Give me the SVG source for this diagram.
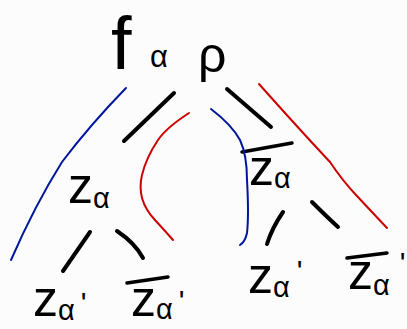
<svg xmlns="http://www.w3.org/2000/svg" width="407" height="329" viewBox="0 0 407 329">
<style>
.t{font-family:"Liberation Sans",Arial,sans-serif;fill:#000}
.z{font-size:50px}
.s{font-size:29px}
.p{font-size:30px}
.k{fill:none;stroke:#000;stroke-width:4;stroke-linecap:round}
.b{fill:none;stroke:#00169c;stroke-width:2;stroke-linecap:round}
.r{fill:none;stroke:#cc0000;stroke-width:2;stroke-linecap:round}
.bar{fill:none;stroke:#000;stroke-width:3.5;stroke-linecap:round}
</style>
<rect width="407" height="329" fill="#fcfcfc"/>
<g id="root">
<text class="t" x="111" y="69" style="font-size:74px">f</text>
<text class="t" x="150" y="67" style="font-size:31px">α</text>
<text class="t" x="198" y="72" style="font-size:50px">ρ</text>
</g>
<g id="z-alpha">
<text class="t" x="68" y="203"><tspan class="z">z</tspan><tspan class="s" dy="5">α</tspan></text>
</g>
<g id="zbar-alpha">
<path class="bar" d="M242,152 L292,143"/>
<text class="t" x="249" y="185"><tspan class="z">z</tspan><tspan class="s" dy="3">α</tspan></text>
</g>
<g id="z-alpha-prime-left">
<text class="t" x="33" y="316"><tspan class="z">z</tspan><tspan class="s" dy="4">α</tspan><tspan class="p" dx="6" dy="-7">'</tspan></text>
</g>
<g id="zbar-alpha-prime-left">
<path class="bar" d="M127,283 L168,277"/>
<text class="t" x="131" y="316"><tspan class="z">z</tspan><tspan class="s" dy="3">α</tspan><tspan class="p" dx="6" dy="-8">'</tspan></text>
</g>
<g id="z-alpha-prime-right">
<text class="t" x="248" y="293"><tspan class="z">z</tspan><tspan class="s" dy="4">α</tspan><tspan class="p" dx="7" dy="-16">'</tspan></text>
</g>
<g id="zbar-alpha-prime-right">
<path class="bar" d="M347,258 L387,253"/>
<text class="t" x="348" y="289"><tspan class="z">z</tspan><tspan class="s" dy="6">α</tspan><tspan class="p" dx="10" dy="-22">'</tspan></text>
</g>
<g id="connectors">
<path class="k" d="M174,93 L124,141"/>
<path class="k" d="M227,89 L271,127"/>
<path class="k" d="M90,232 L63,271"/>
<path class="k" d="M117,231 Q135,243 143,258"/>
<path class="k" d="M283,212 Q272,228 267,244"/>
<path class="k" d="M312,202 Q326,216 338,227"/>
<path class="b" d="M126,88 Q90,125 62,162 Q35,205 11,260"/>
<path class="r" d="M189,113 Q166,128 158,140 Q146,158 142,175 Q136,200 155,220 Q166,232 173,240"/>
<path class="b" d="M211,109 Q232,125 240,140 Q247,155 247,180 Q249,215 247,233 Q245,242 240,245"/>
<path class="r" d="M259,84 Q300,130 330,162 Q342,180 356,195 Q372,212 387,228"/>
</g>
</svg>
